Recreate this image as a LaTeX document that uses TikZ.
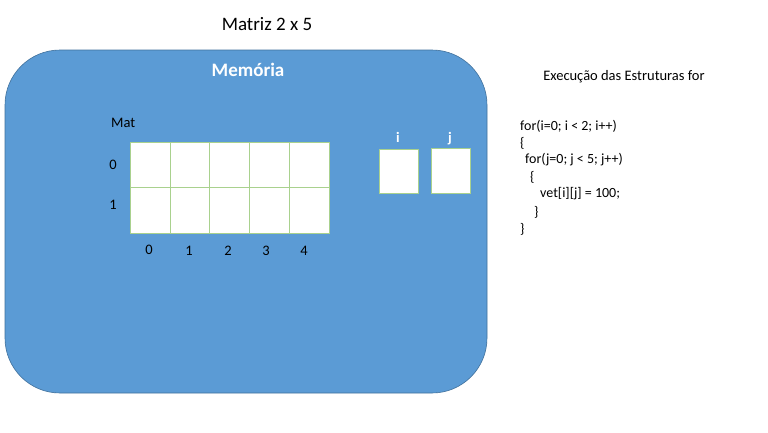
\documentclass[tikz,border=0pt]{standalone}
\usepackage{fontspec}
\setmainfont{Carlito}
\definecolor{memblue}{HTML}{5B9BD5}
\definecolor{memedge}{HTML}{41719C}
\definecolor{cellg}{HTML}{A9D18E}
\begin{document}
\begin{tikzpicture}[x=1pt,y=-1pt,
  cell/.style={draw=cellg, line width=0.8pt, fill=white},
  lbl/.style={font=\fontsize{14.5}{17}\selectfont, inner sep=0pt},
  code/.style={font=\fontsize{14}{17}\selectfont, anchor=west, inner sep=0pt}]
\useasboundingbox (0,0) rectangle (768,432);
\fill[white] (0,0) rectangle (768,432);
\node[font=\fontsize{19}{22}\selectfont, inner sep=0pt] (title) at (267,24) {Matriz 2 x 5};
\draw[memedge, fill=memblue, line width=0.6pt, rounded corners=55pt] (5,50) rectangle (487,393);
\node[font=\bfseries\fontsize{19}{22}\selectfont, text=white, inner sep=0pt] (mem) at (248,70) {Memória};
\node[lbl, anchor=west] (mat) at (111,123) {Mat};
% matrix cells
\foreach \r/\ya/\yb in {0/142/187,1/187/233}{
  \foreach \c/\xa/\xb in {0/130/170,1/170/209,2/209/249,3/249/289,4/289/329}{
    \draw[cell] (\xa,\ya) rectangle (\xb,\yb);
  }
}
\node[lbl] (r0) at (113,165) {0};
\node[lbl] (r1) at (113,205) {1};
\node[lbl] (c0) at (149,250) {0};
\node[lbl] (c1) at (189,251) {1};
\node[lbl] (c2) at (228,251) {2};
\node[lbl] (c3) at (266,251) {3};
\node[lbl] (c4) at (304,251) {4};
% i and j
\draw[cell] (379,149) rectangle (418,193);
\draw[cell] (431,148) rectangle (470,193);
\node[font=\bfseries\fontsize{14.5}{17}\selectfont, text=white, inner sep=0pt, anchor=base] (il) at (398,142) {i};
\node[font=\bfseries\fontsize{14.5}{17}\selectfont, text=white, inner sep=0pt, anchor=base] (jl) at (450,142) {j};
% code
\node[font=\fontsize{14.5}{17}\selectfont, inner sep=0pt] (exec) at (624,77) {Execução das Estruturas for};
\node[code] (l1) at (520,126) {for(i=0; i < 2; i++)};
\node[code] (l2) at (520,143) {\{};
\node[code] (l3) at (525,160) {for(j=0; j < 5; j++)};
\node[code] (l4) at (530,177) {\{};
\node[code] (l5) at (540,194) {vet[i][j] = 100;};
\node[code] (l6) at (534,212) {\}};
\node[code] (l7) at (520,229) {\}};
\end{tikzpicture}
\end{document}
